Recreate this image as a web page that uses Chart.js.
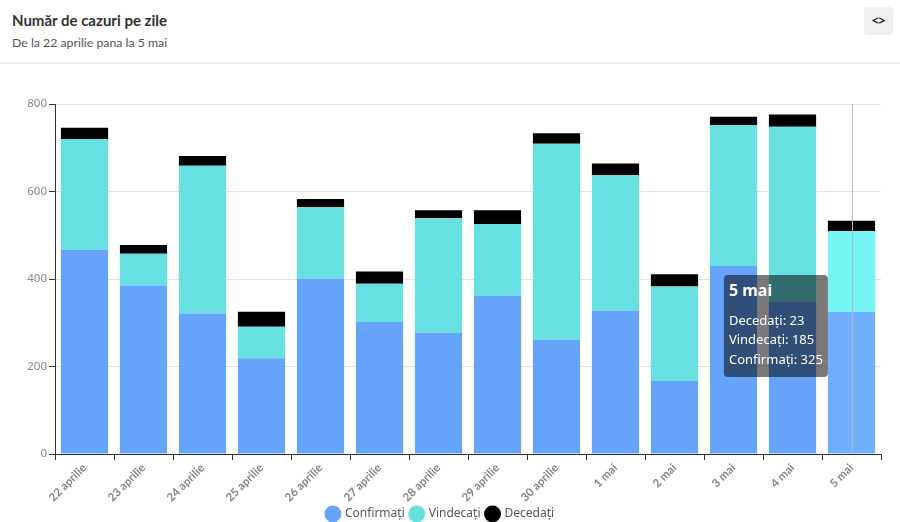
<!DOCTYPE html>
<html>
<head>
<meta charset="utf-8">
<script src="https://cdn.jsdelivr.net/npm/chart.js@4"></script>
<style>
  body { margin: 0; background: #fff; font-family: "Noto Sans", sans-serif; }
  .card { position: relative; width: 900px; height: 522px; overflow: hidden; }
  .title { position: absolute; left: 12px; top: 11px; font-family: Lato, sans-serif; font-size: 15px; font-weight: bold; color: #333; }
  .subtitle { position: absolute; left: 12px; top: 35px; font-family: Lato, sans-serif; font-size: 12.3px; color: #555; }
  .sep { position: absolute; left: 0; top: 62px; width: 900px; height: 2px; background: #eeeef5; }
  .btn { position: absolute; left: 864px; top: 7px; width: 29px; height: 28px; background: #f0f0f0;
         border-radius: 4px; font-size: 12px; font-weight: bold; color: #222; text-align: center; line-height: 28px; }
  .wrap { position: absolute; left: 0; top: 64px; width: 900px; height: 466px; }
</style>
</head>
<body>
<div class="card">
  <div class="title">Număr de cazuri pe zile</div>
  <div class="subtitle">De la 22 aprilie pana la 5 mai</div>
  <div class="btn">&lt;&gt;</div>
  <div class="sep"></div>
  <div class="wrap"><canvas id="myChart"></canvas></div>
</div>
<script>
var zile = ['22 aprilie', '23 aprilie', '24 aprilie', '25 aprilie', '26 aprilie', '27 aprilie', '28 aprilie',
            '29 aprilie', '30 aprilie', '1 mai', '2 mai', '3 mai', '4 mai', '5 mai'];
var confirmati = [467, 385, 321, 219, 401, 302, 277, 362, 261, 327, 167, 430, 348, 325];
var vindecati  = [253, 73, 338, 72, 163, 87, 262, 164, 448, 310, 216, 322, 400, 185];
var decedati   = [26, 20, 22, 34, 19, 28, 18, 31, 24, 27, 28, 19, 28, 23];
var yTicks = [0, 200, 400, 600, 800];

// tooltip sits just left of the hovered bar
Chart.Tooltip.positioners.leftOfBar = function(items) {
  if (!items.length) return false;
  var el = items[0].element;
  var area = this.chart.chartArea;
  return { x: el.x - el.width / 2, y: area.top + (area.bottom - area.top) * 0.634, xAlign: 'right', yAlign: 'center' };
};

// grey vertical line through the hovered column
var crossLine = {
  id: 'crossLine',
  afterDatasetsDraw: function(chart) {
    var act = chart.getActiveElements();
    if (!act.length) return;
    var x = act[0].element.x, a = chart.chartArea, c = chart.ctx;
    c.save();
    c.strokeStyle = '#b8b8b8';
    c.lineWidth = 1;
    c.beginPath();
    c.moveTo(Math.round(x) + 0.5, a.top);
    c.lineTo(Math.round(x) + 0.5, a.bottom);
    c.stroke();
    c.restore();
  }
};

var ctx = document.getElementById('myChart').getContext('2d');
var myChart = new Chart(ctx, {
  type: 'bar',
  data: {
    labels: zile,
    datasets: [
      { label: 'Confirmați', data: confirmati, backgroundColor: '#66a3fa', hoverBackgroundColor: '#6eb0ff' },
      { label: 'Vindecați', data: vindecati, backgroundColor: '#66e0e0', hoverBackgroundColor: '#74f6f6' },
      { label: 'Decedați', data: decedati, backgroundColor: '#000000', hoverBackgroundColor: '#000000' }
    ]
  },
  options: {
    responsive: true,
    maintainAspectRatio: false,
    animation: false,
    events: [],
    layout: { padding: { top: 40, right: 19, left: 0, bottom: 0 } },
    datasets: { bar: { barPercentage: 0.8, categoryPercentage: 1.0 } },
    scales: {
      x: {
        stacked: true,
        afterFit: function(scale) { scale.height = 48; },
        border: { color: '#333' },
        grid: { display: true, drawOnChartArea: false, tickLength: 6, tickColor: '#333', offset: true },
        ticks: { minRotation: 45, maxRotation: 45, color: '#858585', padding: 1,
                 font: { family: 'Lato', size: 11.5, weight: 'bold' } }
      },
      y: {
        stacked: true,
        min: 0,
        max: 800,
        afterFit: function(scale) { scale.width = 55; },
        afterBuildTicks: function(scale) { scale.ticks = yTicks.map(function(v) { return { value: v }; }); },
        border: { color: '#333' },
        grid: { color: '#e2e2e2', tickLength: 6, tickColor: '#333' },
        ticks: { color: '#888', padding: 2, font: { family: 'Noto Sans', size: 11.5 } }
      }
    },
    plugins: {
      legend: {
        position: 'bottom',
        labels: { usePointStyle: true, pointStyle: 'circle', boxWidth: 13, boxHeight: 13, padding: 6,
                  color: '#555', font: { family: 'Noto Sans', size: 12 } }
      },
      tooltip: {
        position: 'leftOfBar',
        backgroundColor: 'rgba(0,0,0,0.52)',
        caretSize: 0,
        caretPadding: 0,
        cornerRadius: 4,
        displayColors: false,
        padding: { top: 7, bottom: 9, left: 5, right: 5 },
        titleFont: { family: 'Noto Sans', size: 16, weight: 'bold' },
        titleMarginBottom: 12,
        bodyFont: { family: 'Noto Sans', size: 13 },
        bodySpacing: 4,
        itemSort: function(a, b) { return b.datasetIndex - a.datasetIndex; }
      }
    }
  },
  plugins: [crossLine]
});

var hover = [0, 1, 2].map(function(i) { return { datasetIndex: i, index: zile.length - 1 }; });
myChart.setActiveElements(hover);
myChart.tooltip.setActiveElements(hover, { x: 0, y: 0 });
myChart.update();
</script>
</body>
</html>
